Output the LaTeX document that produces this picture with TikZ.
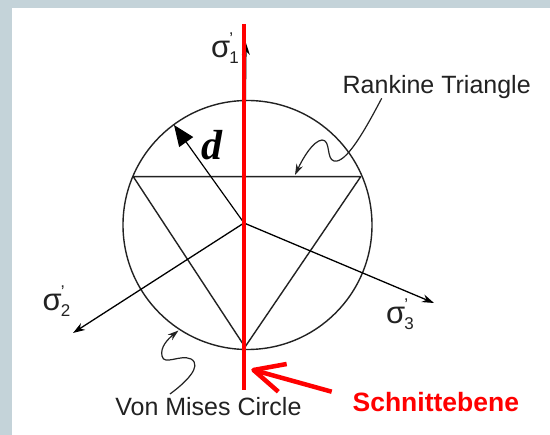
\documentclass[tikz,border=0pt]{standalone}
\usepackage{fontspec}
\setmainfont{Liberation Sans}
\newfontfamily\serifd{Liberation Serif}
\usetikzlibrary{arrows.meta}
\definecolor{bgframe}{HTML}{C4D3D9}
\definecolor{ink}{HTML}{222222}
\definecolor{cutred}{HTML}{FF0000}
\tikzset{
  thin line/.style={draw=ink, line width=1.4pt},
  axisarrow/.style={draw=black, line width=1.3pt, -{Stealth[length=12pt,width=8pt]}},
  leader/.style={draw=ink, line width=1.2pt, -{Stealth[length=11pt,width=7pt]}},
  lbl/.style={inner sep=0pt, text=ink, font=\fontsize{25}{30}\selectfont},
  sig/.style={inner sep=0pt, anchor=base west, text=ink, font=\fontsize{31}{34}\selectfont},
}
\newcommand{\sigl}[1]{σ\kern-1pt\rlap{\raisebox{13pt}{\fontsize{17}{17}\selectfont ’}}\raisebox{-6pt}{\fontsize{17}{17}\selectfont #1}}
\begin{document}
\begin{tikzpicture}[x=1pt,y=-1pt]
\useasboundingbox (0,0) rectangle (550,435);
\fill[bgframe] (0,0) rectangle (550,435);
\fill[white] (12,8) rectangle (550,435);

% geometry
\coordinate (C) at (244,223);
\coordinate (M) at (247.5,225);
\coordinate (TL) at (133.3,176.7);
\coordinate (TR) at (360.7,176.7);
\coordinate (TB) at (245,347);
\coordinate (S1) at (246,43);
\coordinate (S2) at (73,333);
\coordinate (S3) at (434,303);
\coordinate (D) at (174,125);

\draw[thin line] (M) circle[radius=124.5pt];
\draw[thin line, line join=round] (TL) -- (TR) -- (TB) -- cycle;

\draw[axisarrow] (C) -- (S1);
\draw[axisarrow] (C) -- (S2);
\draw[axisarrow] (C) -- (S3);
\draw[draw=black, line width=1.2pt, -{Triangle[length=21pt,width=17pt]}] (C) -- (D);

% leaders
\coordinate (RK) at (381.7,98.3);
\coordinate (RKt) at (295,175);
\draw[leader] (RK) .. controls (365,130) and (346,164) .. (334,161)
  .. controls (326,159) and (331,140) .. (322,140)
  .. controls (313,141) and (303,158) .. (RKt);
\coordinate (VM) at (170,394);
\coordinate (VMt) at (178.5,330.5);
\draw[leader] (VM) .. controls (185,383) and (203,366) .. (191,359)
  .. controls (180,354) and (164,366) .. (162,356)
  .. controls (160,347) and (168,339) .. (VMt);

% cutting plane
\coordinate (RT) at (244,24);
\coordinate (RB) at (244,390);
\draw[cutred, line width=4.5pt] (RT) -- (RB);
\coordinate (AT) at (253.5,370);
\coordinate (AE) at (331.7,391.7);
\coordinate (AW1) at (286.7,364);
\coordinate (AW2) at (278.3,391.7);
\draw[cutred, line width=4.5pt, line join=round] (AE) -- (AT);
\draw[cutred, line width=4.5pt, line join=round] (AW1) -- (AT) -- (AW2);

% labels
\node[sig] (l1) at (211,58) {\sigl{1}};
\node[sig] (l2) at (42.5,310.7) {\sigl{2}};
\node[sig] (l3) at (386,323.3) {\sigl{3}};
\node[inner sep=0pt, anchor=base, font=\serifd\bfseries\itshape\fontsize{42}{44}\selectfont] (dl) at (211.7,160) {d};
\node[lbl, anchor=base] (rk) at (436.7,93.3) {Rankine Triangle};
\node[lbl, anchor=base] (vm) at (208.4,416) {Von Mises Circle};
\node[inner sep=0pt, anchor=base, text=cutred, font=\bfseries\fontsize{26.5}{30}\selectfont] (se) at (435.8,411.7) {Schnittebene};
\end{tikzpicture}
\end{document}
